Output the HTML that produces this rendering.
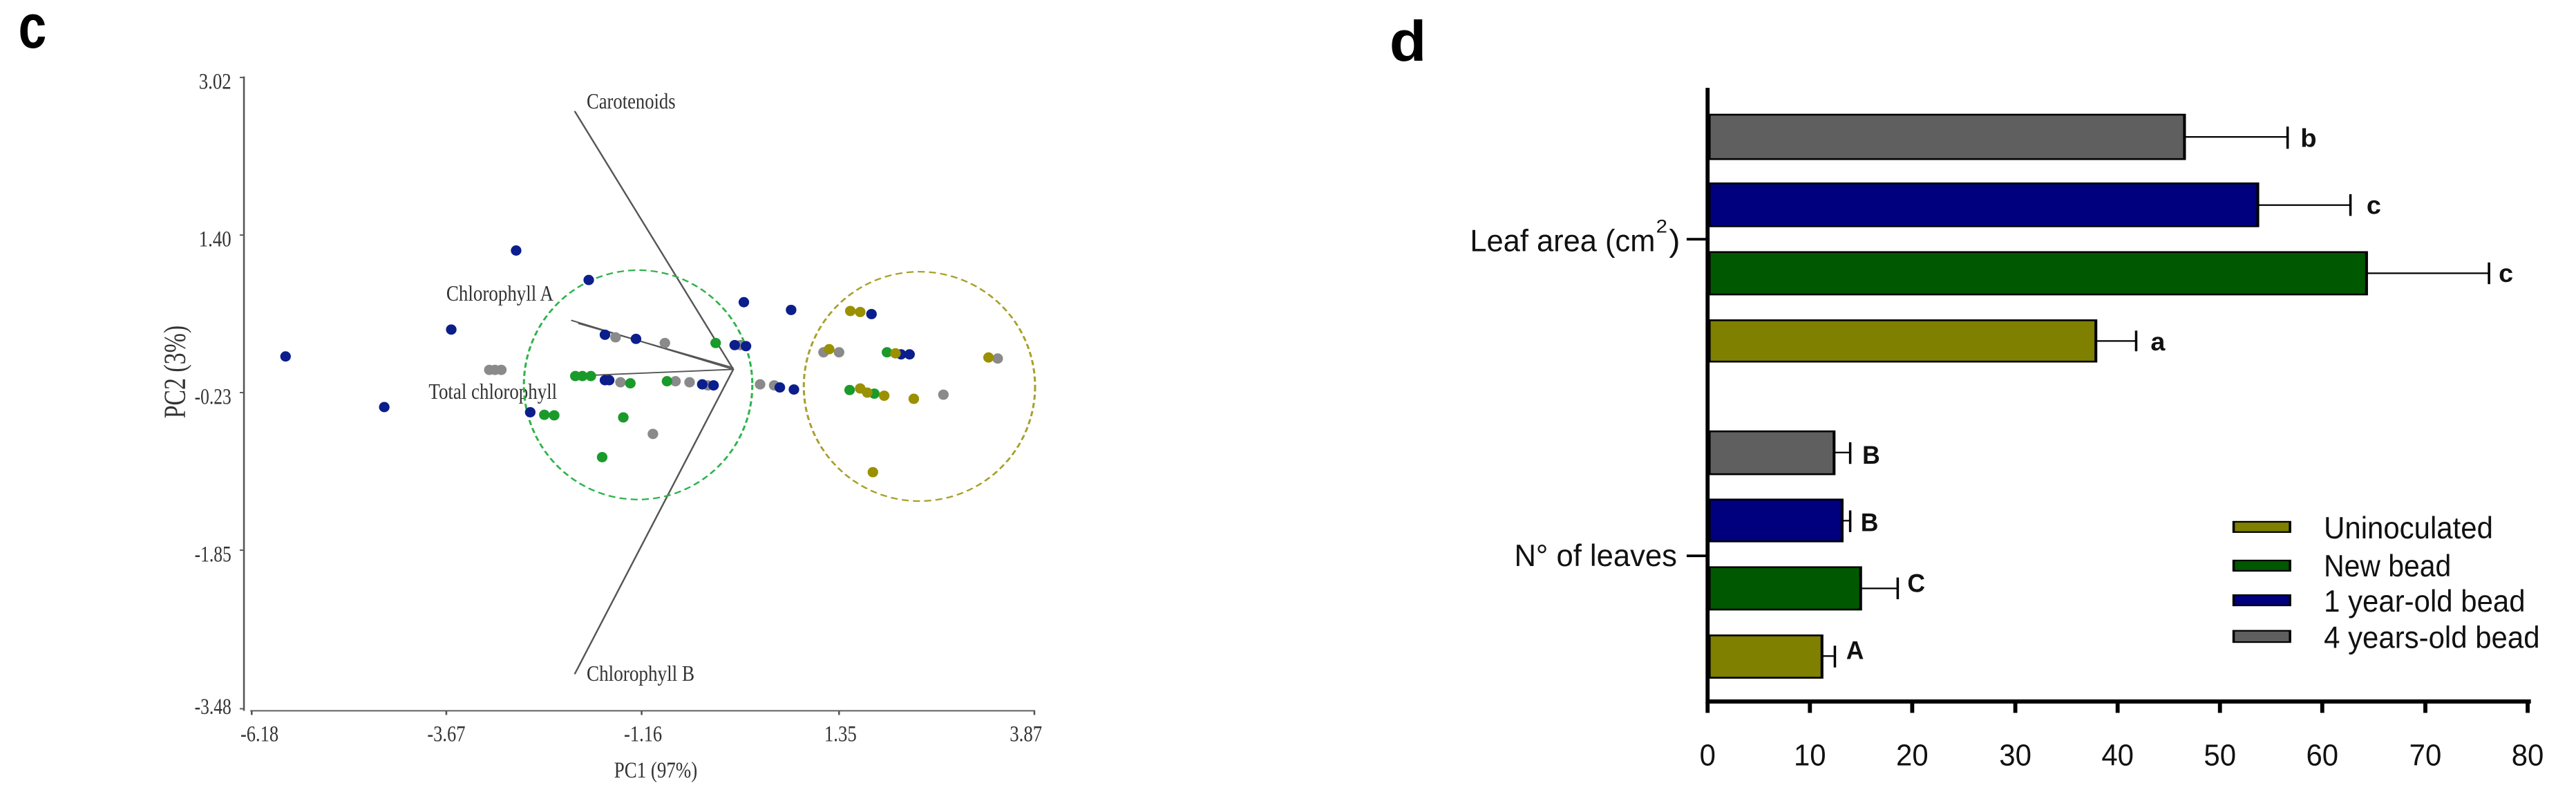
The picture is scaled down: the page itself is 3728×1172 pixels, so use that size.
<!DOCTYPE html>
<html><head><meta charset="utf-8"><style>
html,body{margin:0;padding:0;background:#fff;}
body{width:3728px;height:1172px;position:relative;overflow:hidden;}
svg{position:absolute;top:0;}
</style></head><body>
<svg style="left:0;width:1600px;height:1172px" viewBox="0 0 1568 1568" preserveAspectRatio="none">
<text x="26" y="92" font-family="Liberation Sans, sans-serif" font-weight="bold" font-size="120" textLength="40" lengthAdjust="spacingAndGlyphs">c</text>
<g stroke="#555" stroke-width="2.5" fill="none">
<line x1="346" y1="148" x2="346" y2="1376"/>
<line x1="340" y1="150" x2="346" y2="150"/><line x1="340" y1="455" x2="346" y2="455"/><line x1="340" y1="760" x2="346" y2="760"/><line x1="340" y1="1065" x2="346" y2="1065"/><line x1="340" y1="1372" x2="346" y2="1372"/>
<line x1="355" y1="1376" x2="1468" y2="1376"/>
<line x1="357" y1="1376" x2="357" y2="1384"/><line x1="633" y1="1376" x2="633" y2="1384"/><line x1="910" y1="1376" x2="910" y2="1384"/><line x1="1190" y1="1376" x2="1190" y2="1384"/><line x1="1467" y1="1376" x2="1467" y2="1384"/>
</g>
<g font-family="Liberation Serif, serif" font-size="44" fill="#333" text-anchor="end">
<text x="328" y="172" textLength="46" lengthAdjust="spacingAndGlyphs">3.02</text>
<text x="328" y="477" textLength="46" lengthAdjust="spacingAndGlyphs">1.40</text>
<text x="328" y="782" textLength="52" lengthAdjust="spacingAndGlyphs">-0.23</text>
<text x="328" y="1087" textLength="52" lengthAdjust="spacingAndGlyphs">-1.85</text>
<text x="328" y="1382" textLength="52" lengthAdjust="spacingAndGlyphs">-3.48</text>
</g>
<g font-family="Liberation Serif, serif" font-size="44" fill="#333" text-anchor="middle">
<text x="368" y="1435" textLength="54" lengthAdjust="spacingAndGlyphs">-6.18</text>
<text x="633" y="1435" textLength="54" lengthAdjust="spacingAndGlyphs">-3.67</text>
<text x="912" y="1435" textLength="54" lengthAdjust="spacingAndGlyphs">-1.16</text>
<text x="1192" y="1435" textLength="46" lengthAdjust="spacingAndGlyphs">1.35</text>
<text x="1455" y="1435" textLength="46" lengthAdjust="spacingAndGlyphs">3.87</text>
<text x="930" y="1505" textLength="118" lengthAdjust="spacingAndGlyphs">PC1 (97%)</text>
<text transform="translate(262,720) rotate(-90)" textLength="180" lengthAdjust="spacingAndGlyphs">PC2 (3%)</text>
</g>
<g stroke="#555" stroke-width="2.5" fill="none">
<polyline points="815,215 1040,715 815,1305"/>
<line x1="1040" y1="715" x2="810" y2="620"/>
<line x1="1040" y1="715" x2="812" y2="728"/>
<line x1="1040" y1="712" x2="820" y2="626"/>
</g>
<g font-family="Liberation Serif, serif" font-size="42" fill="#333">
<text x="832" y="210" textLength="126" lengthAdjust="spacingAndGlyphs">Carotenoids</text>
<text x="633" y="582" textLength="152" lengthAdjust="spacingAndGlyphs">Chlorophyll A</text>
<text x="608" y="772" textLength="182" lengthAdjust="spacingAndGlyphs">Total chlorophyll</text>
<text x="832" y="1318" textLength="153" lengthAdjust="spacingAndGlyphs">Chlorophyll B</text>
</g>
<ellipse cx="905" cy="745" rx="162" ry="222" fill="none" stroke="#2db34a" stroke-width="3" stroke-dasharray="10,6"/>
<ellipse cx="1304" cy="748" rx="164" ry="222" fill="none" stroke="#a8a02a" stroke-width="3" stroke-dasharray="10,6"/>
<g fill="#8a8a8a">
<ellipse cx="694" cy="716" rx="7.5" ry="10"/><ellipse cx="702" cy="716" rx="7.5" ry="10"/><ellipse cx="711" cy="716" rx="7.5" ry="10"/><ellipse cx="873" cy="653" rx="7.5" ry="10"/><ellipse cx="943" cy="664" rx="7.5" ry="10"/><ellipse cx="880" cy="740" rx="7.5" ry="10"/><ellipse cx="958" cy="738" rx="7.5" ry="10"/><ellipse cx="978" cy="740" rx="7.5" ry="10"/><ellipse cx="1004" cy="746" rx="7.5" ry="10"/><ellipse cx="1050" cy="668" rx="7.5" ry="10"/><ellipse cx="1078" cy="744" rx="7.5" ry="10"/><ellipse cx="1098" cy="746" rx="7.5" ry="10"/><ellipse cx="926" cy="840" rx="7.5" ry="10"/><ellipse cx="1168" cy="682" rx="7.5" ry="10"/><ellipse cx="1190" cy="682" rx="7.5" ry="10"/><ellipse cx="1338" cy="764" rx="7.5" ry="10"/><ellipse cx="1415" cy="694" rx="7.5" ry="10"/>
</g>
<g fill="#0b1e8c">
<ellipse cx="405" cy="690" rx="7.5" ry="10"/><ellipse cx="545" cy="788" rx="7.5" ry="10"/><ellipse cx="640" cy="638" rx="7.5" ry="10"/><ellipse cx="732" cy="485" rx="7.5" ry="10"/><ellipse cx="835" cy="542" rx="7.5" ry="10"/><ellipse cx="1055" cy="585" rx="7.5" ry="10"/><ellipse cx="1122" cy="600" rx="7.5" ry="10"/><ellipse cx="1236" cy="608" rx="7.5" ry="10"/><ellipse cx="858" cy="648" rx="7.5" ry="10"/><ellipse cx="902" cy="656" rx="7.5" ry="10"/><ellipse cx="752" cy="798" rx="7.5" ry="10"/><ellipse cx="858" cy="736" rx="7.5" ry="10"/><ellipse cx="864" cy="736" rx="7.5" ry="10"/><ellipse cx="996" cy="744" rx="7.5" ry="10"/><ellipse cx="1012" cy="746" rx="7.5" ry="10"/><ellipse cx="1042" cy="668" rx="7.5" ry="10"/><ellipse cx="1058" cy="670" rx="7.5" ry="10"/><ellipse cx="1106" cy="750" rx="7.5" ry="10"/><ellipse cx="1126" cy="754" rx="7.5" ry="10"/><ellipse cx="1290" cy="686" rx="7.5" ry="10"/><ellipse cx="1278" cy="686" rx="7.5" ry="10"/>
</g>
<g fill="#1a9a2a">
<ellipse cx="816" cy="728" rx="7.5" ry="10"/><ellipse cx="826" cy="728" rx="7.5" ry="10"/><ellipse cx="838" cy="728" rx="7.5" ry="10"/><ellipse cx="894" cy="742" rx="7.5" ry="10"/><ellipse cx="946" cy="738" rx="7.5" ry="10"/><ellipse cx="1015" cy="664" rx="7.5" ry="10"/><ellipse cx="772" cy="803" rx="7.5" ry="10"/><ellipse cx="786" cy="804" rx="7.5" ry="10"/><ellipse cx="884" cy="808" rx="7.5" ry="10"/><ellipse cx="854" cy="885" rx="7.5" ry="10"/><ellipse cx="1258" cy="682" rx="7.5" ry="10"/><ellipse cx="1205" cy="755" rx="7.5" ry="10"/><ellipse cx="1240" cy="762" rx="7.5" ry="10"/>
</g>
<g fill="#9a9000">
<ellipse cx="1206" cy="602" rx="7.5" ry="10"/><ellipse cx="1220" cy="604" rx="7.5" ry="10"/><ellipse cx="1176" cy="676" rx="7.5" ry="10"/><ellipse cx="1220" cy="752" rx="7.5" ry="10"/><ellipse cx="1230" cy="760" rx="7.5" ry="10"/><ellipse cx="1254" cy="766" rx="7.5" ry="10"/><ellipse cx="1296" cy="772" rx="7.5" ry="10"/><ellipse cx="1238" cy="914" rx="7.5" ry="10"/><ellipse cx="1402" cy="692" rx="7.5" ry="10"/><ellipse cx="1270" cy="684" rx="7.5" ry="10"/>
</g>
</svg>

<svg style="left:1900px;width:1828px;height:1172px" viewBox="0 0 1568 1568" preserveAspectRatio="none">
<text x="95" y="118" font-family="Liberation Sans, sans-serif" font-weight="bold" font-size="110" textLength="46" lengthAdjust="spacingAndGlyphs">d</text>
<g stroke="#000" stroke-width="3.5">
<rect x="492" y="222" width="590" height="86" fill="#5f5f5f"/>
<rect x="492" y="355" width="681" height="83" fill="#00007f"/>
<rect x="492" y="488" width="816" height="82" fill="#005800"/>
<rect x="492" y="620" width="480" height="80" fill="#7f7f00"/>
<rect x="492" y="835" width="155" height="83" fill="#5f5f5f"/>
<rect x="492" y="967" width="165" height="81" fill="#00007f"/>
<rect x="492" y="1098" width="188" height="82" fill="#005800"/>
<rect x="492" y="1230" width="140" height="82" fill="#7f7f00"/>
</g>
<g stroke="#000" stroke-width="3" fill="none">
<path d="M1082 265H1210M1210 245V288"/>
<path d="M1173 397H1288M1288 376V418"/>
<path d="M1308 529H1460M1460 508V550"/>
<path d="M972 660H1022M1022 640V680"/>
<path d="M647 876H667M667 856V898"/>
<path d="M657 1008H667M667 988V1030"/>
<path d="M680 1139H726M726 1118V1160"/>
<path d="M632 1270H648M648 1250V1292"/>
</g>
<g font-family="Liberation Sans, sans-serif" font-size="50" fill="#111" font-weight="bold">
<text x="1226" y="284" textLength="20" lengthAdjust="spacingAndGlyphs">b</text>
<text x="1308" y="414" textLength="18" lengthAdjust="spacingAndGlyphs">c</text>
<text x="1472" y="546" textLength="18" lengthAdjust="spacingAndGlyphs">c</text>
<text x="1040" y="678" textLength="18" lengthAdjust="spacingAndGlyphs">a</text>
<text x="682" y="898" textLength="22" lengthAdjust="spacingAndGlyphs">B</text>
<text x="680" y="1028" textLength="22" lengthAdjust="spacingAndGlyphs">B</text>
<text x="738" y="1146" textLength="22" lengthAdjust="spacingAndGlyphs">C</text>
<text x="662" y="1276" textLength="22" lengthAdjust="spacingAndGlyphs">A</text>
</g>
<line x1="490" y1="170" x2="490" y2="1362" stroke="#000" stroke-width="5"/>
<line x1="488" y1="1358" x2="1512" y2="1358" stroke="#000" stroke-width="8"/>
<g stroke="#000" stroke-width="5">
<line x1="464" y1="463" x2="490" y2="463"/><line x1="464" y1="1076" x2="490" y2="1076"/>
<line x1="490" y1="1358" x2="490" y2="1380"/><line x1="617" y1="1358" x2="617" y2="1380"/><line x1="744" y1="1358" x2="744" y2="1380"/><line x1="872" y1="1358" x2="872" y2="1380"/><line x1="999" y1="1358" x2="999" y2="1380"/><line x1="1126" y1="1358" x2="1126" y2="1380"/><line x1="1253" y1="1358" x2="1253" y2="1380"/><line x1="1381" y1="1358" x2="1381" y2="1380"/><line x1="1508" y1="1358" x2="1508" y2="1380"/>
</g>
<g font-family="Liberation Sans, sans-serif" font-size="58" fill="#111" text-anchor="middle">
<text x="490" y="1482" textLength="20" lengthAdjust="spacingAndGlyphs">0</text>
<text x="617" y="1482" textLength="40" lengthAdjust="spacingAndGlyphs">10</text>
<text x="744" y="1482" textLength="40" lengthAdjust="spacingAndGlyphs">20</text>
<text x="872" y="1482" textLength="40" lengthAdjust="spacingAndGlyphs">30</text>
<text x="999" y="1482" textLength="40" lengthAdjust="spacingAndGlyphs">40</text>
<text x="1126" y="1482" textLength="40" lengthAdjust="spacingAndGlyphs">50</text>
<text x="1253" y="1482" textLength="40" lengthAdjust="spacingAndGlyphs">60</text>
<text x="1381" y="1482" textLength="40" lengthAdjust="spacingAndGlyphs">70</text>
<text x="1508" y="1482" textLength="40" lengthAdjust="spacingAndGlyphs">80</text>
</g>
<g font-family="Liberation Sans, sans-serif" font-size="60" fill="#111">
<text x="195" y="486" textLength="230" lengthAdjust="spacingAndGlyphs">Leaf area (cm</text>
<text x="426" y="450" font-size="36" textLength="14" lengthAdjust="spacingAndGlyphs">2</text>
<text x="442" y="486" textLength="14" lengthAdjust="spacingAndGlyphs">)</text>
<text x="250" y="1096" textLength="202" lengthAdjust="spacingAndGlyphs">N° of leaves</text>
<text x="1255" y="1042" textLength="210" lengthAdjust="spacingAndGlyphs">Uninoculated</text>
<text x="1255" y="1116" textLength="158" lengthAdjust="spacingAndGlyphs">New bead</text>
<text x="1255" y="1184" textLength="250" lengthAdjust="spacingAndGlyphs">1 year-old bead</text>
<text x="1255" y="1254" textLength="268" lengthAdjust="spacingAndGlyphs">4 years-old bead</text>
</g>
<g stroke="#000" stroke-width="3">
<rect x="1143" y="1010" width="70" height="20" fill="#7f7f00"/>
<rect x="1143" y="1085" width="70" height="20" fill="#005800"/>
<rect x="1143" y="1152" width="70" height="20" fill="#00007f"/>
<rect x="1143" y="1221" width="70" height="22" fill="#5f5f5f"/>
</g>
</svg>
</body></html>
